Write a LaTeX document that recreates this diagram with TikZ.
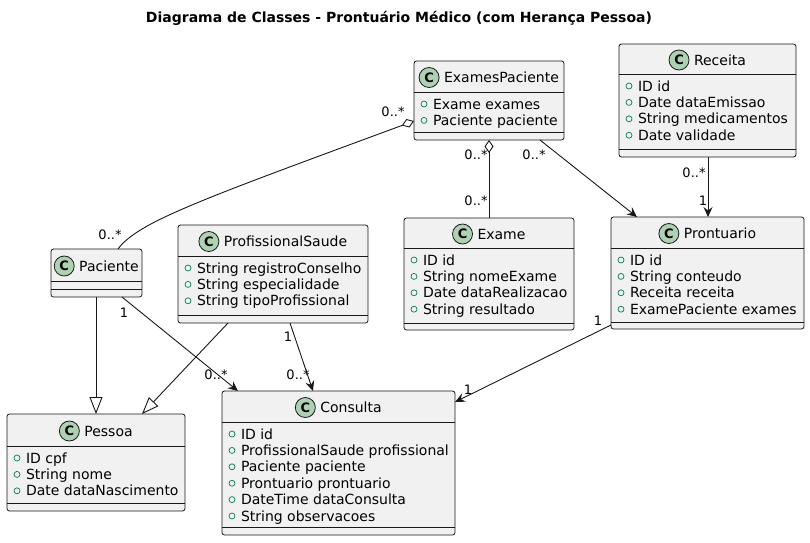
\documentclass[tikz,border=0pt]{standalone}
\usepackage{fontspec}
\setmainfont{DejaVu Sans}
\usetikzlibrary{arrows.meta,calc}
\definecolor{boxfill}{HTML}{F1F1F1}
\definecolor{ink}{HTML}{181818}
\definecolor{badgefill}{HTML}{ADD1B2}
\definecolor{visgreen}{HTML}{038048}
\tikzset{
  classbox/.style={draw=ink, fill=boxfill, line width=0.8pt, rounded corners=2.5pt, outer sep=0pt, inner sep=0pt},
  sepline/.style={draw=ink, line width=0.8pt},
  classname/.style={inner sep=0pt, outer sep=0pt, font=\fontsize{14}{16}\selectfont, text=black},
  cbadge/.style={circle, draw=ink, fill=badgefill, line width=0.8pt, minimum size=20pt, inner sep=0pt, font=\fontsize{13}{15}\selectfont\bfseries},
  attrtext/.style={inner sep=0pt, outer sep=0pt, font=\fontsize{14}{16}\selectfont, text=black},
  visib/.style={draw=visgreen, line width=0.7pt},
  lbl/.style={inner sep=0pt, font=\fontsize{13}{15}\selectfont, text=black},
  conn/.style={draw=ink, line width=0.9pt},
  assoc/.style={conn, -{Stealth[length=10pt, width=9pt, inset=3.5pt]}},
  inherit/.style={conn, -{Triangle[open, length=17pt, width=13pt, fill=white]}},
  aggr/.style={conn, {Diamond[open, length=13pt, width=9pt, fill=white]}-},
}
\newcommand{\umlclass}[9]{%
  \pgfmathsetmacro\cw{#4-#2}%
  \pgfmathsetmacro\ch{#5-#3}%
  \node[classbox, minimum width=\cw pt, minimum height=\ch pt, anchor=north west] (#1) at (#2,#3) {};
  \draw[sepline] (#2,#6) -- (#4,#6);
  \draw[sepline] (#2,#7) -- (#4,#7);
  \pgfmathsetmacro\cx{(#2+#4)/2+12.5}%
  \pgfmathsetmacro\cy{(#3+#6)/2+1+5}%
  \node[classname, anchor=base] (#1-name) at (\cx,\cy) {#8};
  \node[cbadge] (#1-badge) at ([xshift=-15pt, yshift=5pt]#1-name.base west) {C};
  \foreach \a [count=\i] in {#9} {
    \pgfmathsetmacro\ay{#6+12+(\i-1)*16.4}
    \node[attrtext, anchor=base west] (#1-a\i) at (#2+19,\ay+5) {\a};
    \draw[visib] (#2+10,\ay) circle[radius=3pt];
  }
}
\begin{document}
\begin{tikzpicture}[x=1pt, y=-1pt]
\useasboundingbox (0,0) rectangle (810,542);
\fill[white] (0,0) rectangle (810,542);
\node[font=\fontsize{14}{16}\selectfont\bfseries] (title) at (399,18) {Diagrama de Classes - Prontuário Médico (com Herança Pessoa)};

\umlclass{ExamesPaciente}{414}{61}{564}{140}{92}{132}{ExamesPaciente}{Exame exames, Paciente paciente}
\umlclass{Receita}{619}{44}{796}{157}{74}{149}{Receita}{ID id, Date dataEmissao, String medicamentos, Date validade}
\umlclass{Paciente}{51}{249}{142}{297}{281}{289}{Paciente}{}
\umlclass{ProfissionalSaude}{178}{225}{368}{323}{256}{315}{ProfissionalSaude}{String registroConselho, String especialidade, String tipoProfissional}
\umlclass{Exame}{404}{218}{574}{330}{248}{323}{Exame}{ID id, String nomeExame, Date dataRealizacao, String resultado}
\umlclass{Prontuario}{611}{217}{804}{329}{248}{322}{Prontuario}{ID id, String conteudo, Receita receita, ExamePaciente exames}
\umlclass{Pessoa}{7}{414}{185}{511}{446}{503}{Pessoa}{ID cpf, String nome, Date dataNascimento}
\umlclass{Consulta}{222}{391}{455}{535}{422}{527}{Consulta}{ID id, ProfissionalSaude profissional, Paciente paciente, Prontuario prontuario, DateTime dataConsulta, String observacoes}

% aggregation ExamesPaciente - Paciente
\draw[aggr] ($(ExamesPaciente.north west)+(0,60)$) .. controls (200,200) and (138,222) .. ($(Paciente.north west)+(67,0)$);
\node[lbl] (l1) at (393,112) {0..*};
\node[lbl] (l2) at (110,235) {0..*};

% aggregation ExamesPaciente - Exame
\draw[aggr] ($(ExamesPaciente.south west)+(75,0)$) -- ($(Exame.north west)+(85,0)$);
\node[lbl] (l3) at (476,155) {0..*};
\node[lbl] (l4) at (476,201) {0..*};

% ExamesPaciente -> Prontuario
\draw[assoc] ($(ExamesPaciente.south west)+(126,0)$) -- ($(Prontuario.north west)+(26,0)$);
\node[lbl] (l5) at (534,155) {0..*};

% Receita -> Prontuario
\draw[assoc] ($(Receita.south west)+(89,0)$) -- ($(Prontuario.north west)+(97,0)$);
\node[lbl] (l6) at (694,173) {0..*};
\node[lbl] (l7) at (703,201) {1};

% inheritance
\draw[inherit] ($(Paciente.south west)+(45,0)$) -- ($(Pessoa.north west)+(89,0)$);
\draw[inherit] ($(ProfissionalSaude.south west)+(50,0)$) -- ($(Pessoa.north west)+(135,0)$);

% Paciente -> Consulta
\draw[assoc] ($(Paciente.south west)+(71,0)$) -- ($(Consulta.north west)+(16,0)$);
\node[lbl] (l8) at (124,313) {1};
\node[lbl] (l9) at (216,375) {0..*};

% ProfissionalSaude -> Consulta
\draw[assoc] ($(ProfissionalSaude.south west)+(112,0)$) -- ($(Consulta.north west)+(91,0)$);
\node[lbl] (l10) at (288,337) {1};
\node[lbl] (l11) at (298,375) {0..*};

% Prontuario -> Consulta
\draw[assoc] ($(Prontuario.south west)+(0,-4)$) -- ($(Consulta.north west)+(233,11)$);
\node[lbl] (l12) at (598,321) {1};
\node[lbl] (l13) at (468,390) {1};
\end{tikzpicture}
\end{document}
